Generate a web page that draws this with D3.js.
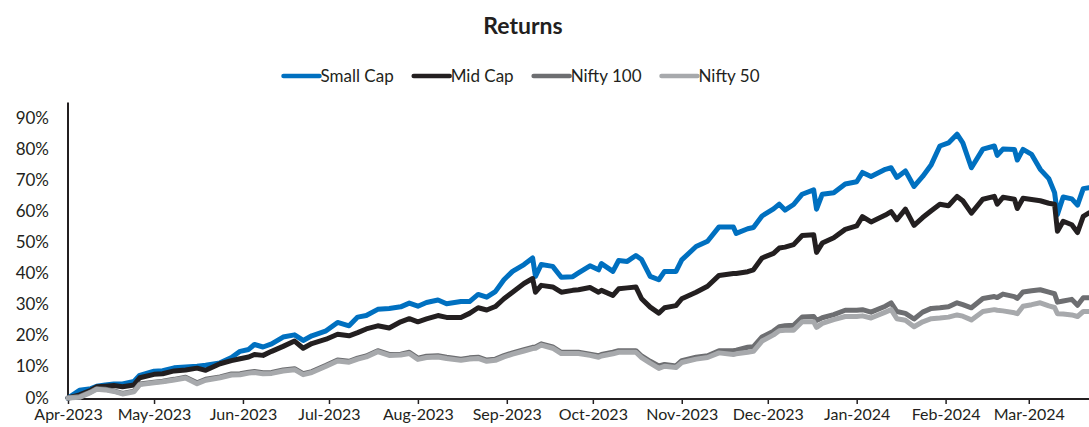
<!DOCTYPE html>
<html>
<head>
<meta charset="utf-8">
<script src="https://cdn.jsdelivr.net/npm/d3@7"></script>
<style>
  body { margin: 0; background: #fff; }
  svg text { font-family: Lato, "Open Sans", sans-serif; fill: #231f20; }
</style>
</head>
<body>
<div id="chart"></div>
<script>
const width = 1089, height = 427;

// dates of the readings (daily closes)
const dates = [
  "2023-04-01","2023-04-05","2023-04-09","2023-04-11","2023-04-14","2023-04-17","2023-04-20","2023-04-24","2023-04-26",
  "2023-05-01","2023-05-04","2023-05-08","2023-05-12","2023-05-16","2023-05-19","2023-05-24","2023-05-28","2023-05-31",
  "2023-06-03","2023-06-05","2023-06-08","2023-06-11","2023-06-15","2023-06-19","2023-06-22","2023-06-25","2023-06-30",
  "2023-07-04","2023-07-08","2023-07-11","2023-07-14","2023-07-18","2023-07-22","2023-07-26","2023-07-29",
  "2023-08-01","2023-08-04","2023-08-08","2023-08-11","2023-08-16","2023-08-19","2023-08-22","2023-08-25","2023-08-28","2023-08-31",
  "2023-09-03","2023-09-07","2023-09-10","2023-09-11","2023-09-13","2023-09-17","2023-09-20","2023-09-24","2023-09-26","2023-09-30",
  "2023-10-03","2023-10-04","2023-10-08","2023-10-10","2023-10-13","2023-10-16","2023-10-18","2023-10-21","2023-10-24","2023-10-26","2023-10-30",
  "2023-11-01","2023-11-06","2023-11-10","2023-11-14","2023-11-19","2023-11-20","2023-11-24","2023-11-26","2023-11-29",
  "2023-12-03","2023-12-05","2023-12-07","2023-12-10","2023-12-13","2023-12-17","2023-12-18","2023-12-20","2023-12-24","2023-12-28",
  "2024-01-01","2024-01-03","2024-01-06","2024-01-11","2024-01-13","2024-01-15","2024-01-18","2024-01-21","2024-01-24","2024-01-27","2024-01-30",
  "2024-02-02","2024-02-05","2024-02-07","2024-02-10","2024-02-14","2024-02-18","2024-02-19","2024-02-21","2024-02-25","2024-02-26","2024-02-28",
  "2024-03-02","2024-03-05","2024-03-08","2024-03-10","2024-03-11","2024-03-13","2024-03-16","2024-03-18","2024-03-20","2024-03-22"
];

const smallCap = [
  0,2.5,3,3.8,4.2,4.5,4.5,5.3,7.3,
  8.6,8.8,9.7,10,10.2,10.5,11.3,13,15,
  15.6,17.2,16.4,17.4,19.6,20.3,18.5,20,21.6,
  24.3,23.2,26,26.5,28.5,28.8,29.3,30.5,
  29.5,30.7,31.5,30.3,31,31,33.3,32.4,34.2,38,
  40.7,42.9,45,39.1,42.9,42.3,38.8,39,40.2,42.5,
  41.2,43.2,40.7,44.2,43.9,45.8,44.5,39.1,38,40.7,40.7,
  44.4,48.7,50.4,55,55,52.9,54.4,54.8,58.5,
  60.8,62.3,60.4,62.2,65.5,66.9,60.7,65.5,66,68.8,
  69.5,72.5,71.2,73.5,74,70.9,73,68,71.2,75,81,
  82,84.8,82,74,80,81,78,80,79.9,76.5,79.9,
  78.3,73.5,70.5,66,59,64.6,64,62,67.3,67.6
];

const midCap = [
  0,1,2.5,3.6,3.8,4,3.6,4.2,6.5,
  7.6,7.8,8.7,9,9.6,8.9,11,12,12.6,
  13.2,14,13.7,15,16.6,18.3,16,17.5,18.9,
  20.5,20,21,22.2,23.2,22.5,24.5,25.5,
  24.5,25.4,26.5,25.9,25.9,27.2,29,28.3,29.4,31.9,
  34,36.8,38.4,34,36.2,35.7,34,34.6,34.8,35.5,
  34,34.6,33,35.1,35.4,35.7,31.9,29.2,27.3,29,29.7,
  31.9,34,35.9,39.4,40,40,40.6,41.2,45,
  46.5,48.2,48.5,49.3,52.2,52.5,46.8,49.8,51.5,54.2,
  55.3,58.3,56.6,58.8,59.9,57.3,60.7,55.5,58,60.2,62.3,
  61.8,64.8,63.4,59.4,63.9,64.8,62.3,64.5,63.9,60.9,64.2,
  63.8,63.4,62.6,62.3,53.6,56.8,55.7,53.2,58.4,59.5
];

const nifty100 = [
  0,0.5,2,3,2.8,2.3,1.5,2.2,4.5,
  5.1,5.4,6,6.7,4.9,6,6.8,7.7,7.8,
  8.3,8.5,8.1,8.2,9,9.4,7.8,8.5,10.5,
  12.2,11.8,12.8,13.5,15.2,14,14.1,14.7,
  12.8,13.4,13.6,13.1,12.5,12.9,13.1,12.2,12.5,13.6,
  14.5,15.5,16.3,16.4,17.4,16.4,14.7,14.7,14.7,14.1,
  13.6,14,14.7,15.2,15.2,15.2,13.5,11.8,10.3,10.8,10.3,
  12,13.1,13.6,15.2,15.2,15.4,16.3,16.5,19.6,
  21.5,22.9,23.2,23.4,26,26.2,24.9,25.8,26.8,28.2,
  28.2,28.4,27.6,29.5,30.6,27.8,27.2,25.4,27.6,28.8,29,
  29.3,30.6,30,29,32,32.6,32.3,33.4,32.6,32,34.1,
  34.5,34.8,34,33.5,30.8,31.2,31.7,29.8,32.2,32.2
];

const nifty50 = [
  0,0.2,1.8,2.8,2.6,2.1,1.3,2,4.3,
  4.9,5.2,5.8,6.4,4.6,5.7,6.5,7.4,7.5,
  8,8.2,7.8,7.9,8.7,9.1,7.5,8.2,10.2,
  11.9,11.5,12.5,13.2,14.9,13.7,13.8,14.3,
  12.4,13,13.2,12.7,12.1,12.5,12.7,11.8,12.1,13.2,
  14.1,15.1,15.9,16,17,16,14.3,14.3,14.3,13.7,
  13.1,13.5,14.2,14.7,14.7,14.7,13,11.2,9.5,10.2,9.8,
  11.4,12.5,13,14.5,14,14.2,14.7,15,18.3,
  20.3,21.6,21.8,21.8,24.5,24.5,22.7,24,25.2,26.2,
  26.2,26.4,25.7,27.6,28.4,25.5,25,22.9,24.5,25.5,25.7,
  26,26.7,26.3,25.1,27.8,28.4,28.2,28,27.4,27.1,29.5,
  30,30.6,29.6,29.1,27.1,27,26.7,26.2,27.8,27.8
];

const seriesNames = ["Small Cap", "Mid Cap", "Nifty 100", "Nifty 50"];
const seriesValues = [smallCap, midCap, nifty100, nifty50];
const seriesColors = ["#0070c0", "#231f20", "#6d6e71", "#a7a9ac"];
const yTicks = [0, 10, 20, 30, 40, 50, 60, 70, 80, 90];
const monthTicks = ["2023-04-01","2023-05-01","2023-06-01","2023-07-01","2023-08-01","2023-09-01",
  "2023-10-01","2023-11-01","2023-12-01","2024-01-01","2024-02-01","2024-03-01"];

const parse = d3.timeParse("%Y-%m-%d");

let svg = d3.select("#chart")
    .append("svg")
    .attr("width", width)
    .attr("height", height);

let x = d3.scaleTime()
    .domain([parse("2023-04-01"), parse("2024-03-22")])
    .range([68, 1089]);

let y = d3.scaleLinear()
    .domain([0, 90])
    .range([398, 118]);

// title
svg.append("text")
    .attr("x", 523)
    .attr("y", 34)
    .style("text-anchor", "middle")
    .style("font-size", "23px")
    .style("font-weight", 700)
    .text("Returns");

// y axis: labels only plus a plain line
let yAxis = svg.append("g")
    .attr("transform", "translate(68,0)")
    .call(d3.axisLeft(y).tickValues(yTicks).tickSize(0).tickPadding(19)
        .tickFormat(function(d) { return d + "%"; }));
yAxis.select(".domain").remove();
yAxis.selectAll("text")
    .attr("dy", "0.3em")
    .style("font-size", "17px")
    .style("font-family", "Lato, sans-serif")
    .attr("fill", "#231f20");

svg.append("line")
    .attr("x1", 68).attr("x2", 68)
    .attr("y1", y(95)).attr("y2", y(0) + 1)
    .attr("stroke", "#231f20")
    .attr("stroke-width", 2);

// x axis
let xAxis = svg.append("g")
    .attr("transform", `translate(0, ${y(0) + 1})`)
    .call(d3.axisBottom(x)
        .tickValues(monthTicks.map(parse))
        .tickSize(5)
        .tickPadding(5)
        .tickFormat(d3.timeFormat("%b-%Y")));
xAxis.select(".domain")
    .attr("d", `M68,0H${width}`)
    .attr("stroke", "#231f20")
    .attr("stroke-width", 2);
xAxis.selectAll(".tick line")
    .attr("stroke", "#231f20")
    .attr("stroke-width", 1.5);
xAxis.selectAll("text")
    .style("font-size", "16px")
    .style("font-family", "Lato, sans-serif")
    .attr("fill", "#231f20");

// lines
let line = d3.line()
    .x(function(d, i) { return x(parse(dates[i])); })
    .y(function(d) { return y(d); });

svg.selectAll(".series")
    .data(seriesValues)
    .enter()
    .append("path")
    .attr("class", "series")
    .attr("fill", "none")
    .attr("stroke", function(d, i) { return seriesColors[i]; })
    .attr("stroke-width", 5)
    .attr("stroke-linejoin", "round")
    .attr("stroke-linecap", "round")
    .attr("d", line);

// legend
let legend = svg.append("g");
let lx = 0;
seriesNames.forEach(function(name, i) {
    let item = legend.append("g").attr("transform", `translate(${lx}, 0)`);
    item.append("line")
        .attr("x1", 0).attr("x2", 36)
        .attr("y1", 0).attr("y2", 0)
        .attr("stroke", seriesColors[i])
        .attr("stroke-width", 4.5)
        .attr("stroke-linecap", "round");
    let t = item.append("text")
        .attr("x", 37)
        .attr("dy", "0.35em")
        .style("font-size", "17px")
        .text(name);
    lx += 37 + t.node().getComputedTextLength() + 20;
});
let legendWidth = lx - 20;
legend.attr("transform", `translate(${521.5 - legendWidth / 2}, 76)`);
</script>
</body>
</html>
